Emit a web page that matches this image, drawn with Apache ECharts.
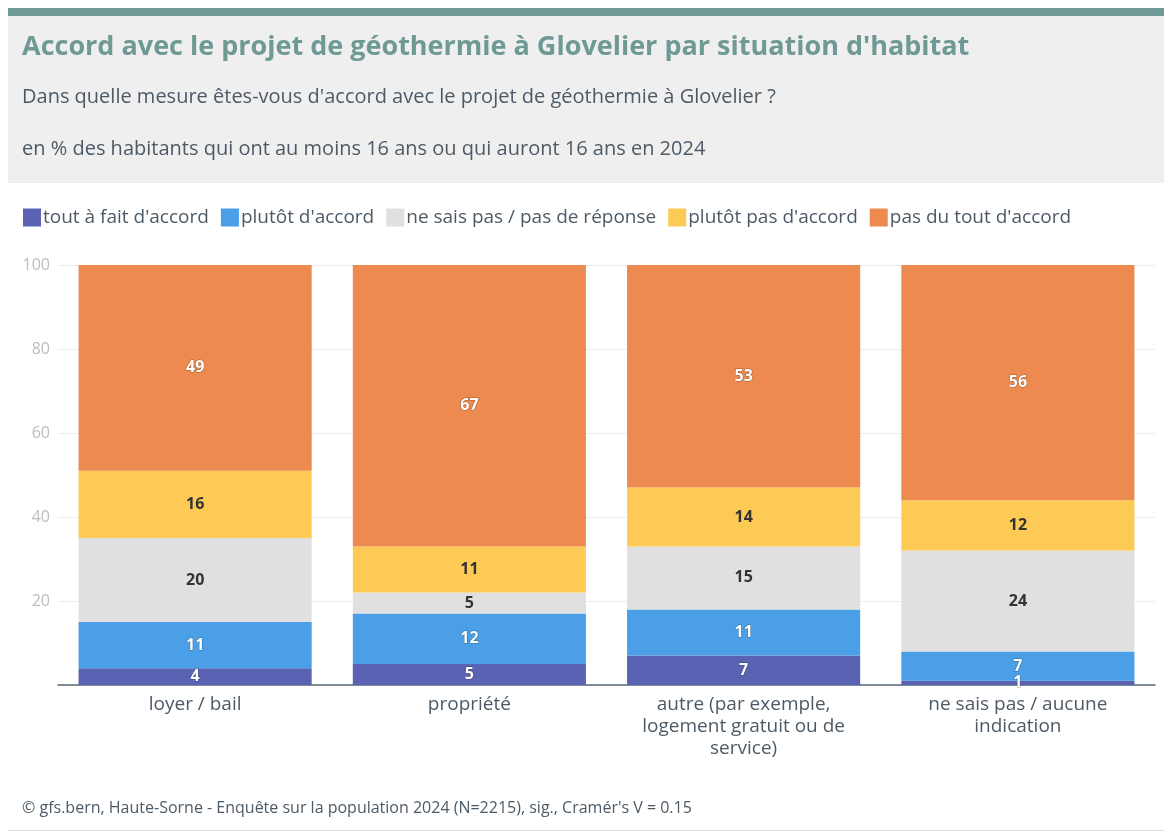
<!DOCTYPE html>
<html>
<head>
<meta charset="utf-8">
<script src="https://cdn.jsdelivr.net/npm/echarts@6.0.0/dist/echarts.min.js"></script>
<style>
  html, body { margin: 0; padding: 0; background: #fff; }
  #chart { width: 1164px; height: 834px; }
</style>
</head>
<body>
<div id="chart"></div>
<script>
const categories = [
  "loyer / bail",
  "propriété",
  "autre (par exemple,\nlogement gratuit ou de\nservice)",
  "ne sais pas / aucune\nindication",
];
const seriesNames = [
  "tout à fait d'accord",
  "plutôt d'accord",
  "ne sais pas / pas de réponse",
  "plutôt pas d'accord",
  "pas du tout d'accord",
];
const toutAFait = [4, 5, 7, 1];
const plutotAccord = [11, 12, 11, 7];
const neSaisPas = [20, 5, 15, 24];
const plutotPas = [16, 11, 14, 12];
const pasDuTout = [49, 67, 53, 56];
const yTicks = [0, 20, 40, 60, 80, 100];

const colors = ["#5a62b3", "#4a9fe6", "#e0e0e0", "#fdcb55", "#ed8a4f"];
const labelColors = ["#fff", "#fff", "#333", "#333", "#fff"];
const values = [toutAFait, plutotAccord, neSaisPas, plutotPas, pasDuTout];
const font = "Open Sans";

const chart = echarts.init(document.getElementById("chart"));

const series = seriesNames.map((name, i) => ({
  name,
  type: "bar",
  stack: "total",
  barWidth: "85%",
  data: values[i],
  itemStyle: { color: colors[i] },
  label: {
    show: true,
    position: "inside",
    color: labelColors[i],
    fontFamily: font,
    fontWeight: "bold",
    fontSize: 16,
    textBorderColor: labelColors[i] === "#fff" ? "rgba(0,0,0,0.35)" : "transparent",
    textBorderWidth: labelColors[i] === "#fff" ? 1 : 0,
  },
}));

chart.setOption({
  animation: false,
  textStyle: { fontFamily: font },
  graphic: [
    { type: "rect", left: 8, top: 8, shape: { width: 1156, height: 8 }, style: { fill: "#6f9995" } },
    { type: "rect", left: 8, top: 16, shape: { width: 1156, height: 167 }, style: { fill: "#efefef" } },
    { type: "rect", left: 8, top: 830, shape: { width: 1156, height: 1 }, style: { fill: "#dddddd" } },
    {
      type: "text", left: 22, top: 34,
      style: { text: "Accord avec le projet de géothermie à Glovelier par situation d'habitat", fill: "#6f9995", font: "bold 27px " + font },
    },
    {
      type: "text", left: 22, top: 87,
      style: { text: "Dans quelle mesure êtes-vous d'accord avec le projet de géothermie à Glovelier ?", fill: "#4d5a66", font: "20px " + font },
    },
    {
      type: "text", left: 22, top: 139,
      style: { text: "en % des habitants qui ont au moins 16 ans ou qui auront 16 ans en 2024", fill: "#4d5a66", font: "20px " + font },
    },
    {
      type: "text", left: 22, top: 800,
      style: { text: "© gfs.bern, Haute-Sorne - Enquête sur la population 2024 (N=2215), sig., Cramér's V = 0.15", fill: "#4d5a66", font: "16px " + font },
    },
  ],
  legend: {
    left: 18,
    top: 203,
    itemWidth: 18,
    itemHeight: 18,
    itemGap: 12,
    icon: "rect",
    textStyle: { fontSize: 19, color: "#4d5a66", fontFamily: font, padding: [0, 0, 0, -3] },
    data: seriesNames,
  },
  grid: { left: 58, right: 9, top: 265, bottom: 149, containLabel: false },
  xAxis: {
    type: "category",
    data: categories,
    axisLine: { lineStyle: { color: "#5a6a75", width: 1.5 } },
    axisTick: { show: false },
    axisLabel: { color: "#4d5a66", fontSize: 19, lineHeight: 22, margin: 9, fontFamily: font },
  },
  yAxis: {
    type: "value",
    min: yTicks[0],
    max: yTicks[yTicks.length - 1],
    interval: 20,
    axisLine: { show: false },
    axisTick: { show: false },
    axisLabel: {
      color: "#bcbcbc", fontSize: 16, margin: 8, fontFamily: font,
      formatter: (v) => (v === 0 ? "" : String(v)),
    },
    splitLine: { lineStyle: { color: "#ececec" } },
  },
  series,
});
</script>
</body>
</html>
